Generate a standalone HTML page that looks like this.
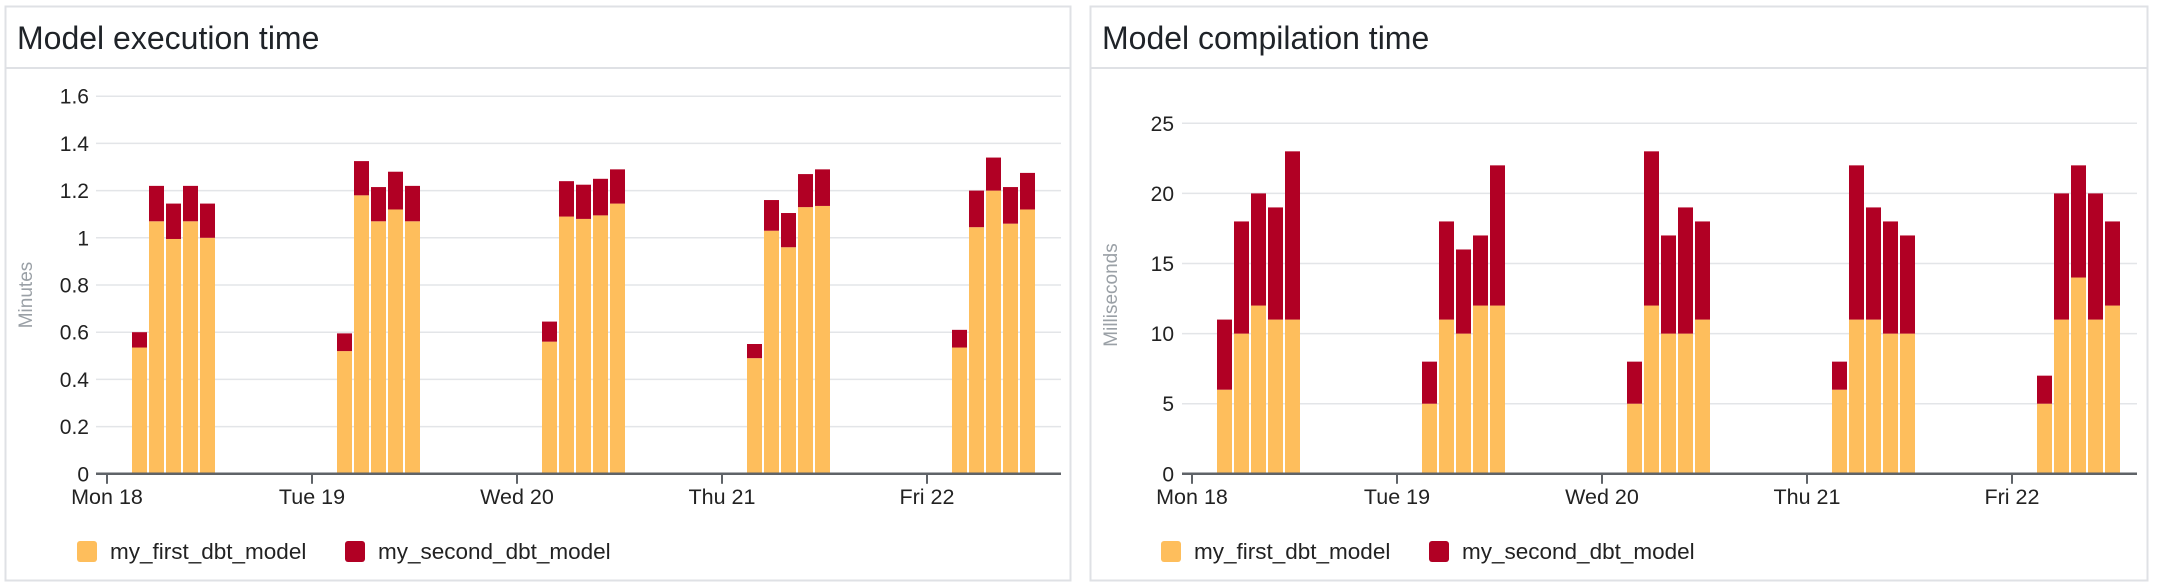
<!DOCTYPE html>
<html><head><meta charset="utf-8"><style>
html,body{margin:0;padding:0;background:#fff;width:2160px;height:586px;overflow:hidden}
svg{display:block;font-family:"Liberation Sans",sans-serif}
</style></head><body>
<svg id="s" width="2160" height="586" xmlns="http://www.w3.org/2000/svg">
<rect x="5.5" y="6.5" width="1065" height="574" fill="#fff" stroke="#dfe1e5" stroke-width="2"/>
<line x1="5" y1="68" x2="1071" y2="68" stroke="#dfe1e5" stroke-width="2"/>
<text x="17" y="49" font-size="32" fill="#1f2328">Model execution time</text>
<rect x="1090.5" y="6.5" width="1057" height="574" fill="#fff" stroke="#dfe1e5" stroke-width="2"/>
<line x1="1090" y1="68" x2="2148" y2="68" stroke="#dfe1e5" stroke-width="2"/>
<text x="1102" y="49" font-size="32" fill="#1f2328">Model compilation time</text>
<g id="g"></g>
</svg>
<script>
const NS="http://www.w3.org/2000/svg",g=document.getElementById('g');
function el(t,a,txt){const e=document.createElementNS(NS,t);for(const k in a)e.setAttribute(k,a[k]);if(txt!==undefined)e.textContent=txt;g.appendChild(e);return e;}
const OR="#FEBE5C",RD="#B10024";
function chart(o){
  const y0=473.8,ppu=o.ppu;
  o.ticks.forEach(v=>{const y=y0-v*ppu;
    if(v>0)el('line',{x1:o.left,x2:o.right,y1:y,y2:y,stroke:"#e3e5e8","stroke-width":1.5});
    el('text',{x:o.lab,y:y+7.5,"font-size":21,"text-anchor":"end",fill:"#222"},o.fmt(v));});
  el('text',{x:0,y:0,"font-size":19,"text-anchor":"middle",fill:"#9aa0a6",transform:`translate(${o.yl+7},295) rotate(-90)`},o.ylab);
  const days=["Mon 18","Tue 19","Wed 20","Thu 21","Fri 22"];
  days.forEach((d,i)=>{const tx=o.t0+i*205;
    el('line',{x1:tx,x2:tx,y1:y0,y2:y0+10,stroke:"#5f6368","stroke-width":2});
    el('text',{x:tx,y:504,"font-size":21.5,"text-anchor":"middle",fill:"#222"},d);
    o.data[i].forEach((b,j)=>{const x=tx+25+j*17;
      el('rect',{x:x,y:y0-b[0]*ppu,width:15,height:b[0]*ppu,fill:OR});
      el('rect',{x:x,y:y0-b[1]*ppu,width:15,height:(b[1]-b[0])*ppu,fill:RD});});
  });
  el('line',{x1:o.left,x2:o.right,y1:y0,y2:y0,stroke:"#5f6368","stroke-width":2.5});
  el('rect',{x:o.lg,y:541,width:20,height:21,rx:3,fill:OR});
  el('text',{x:o.lg+33,y:559,"font-size":22.5,fill:"#222"},"my_first_dbt_model");
  el('rect',{x:o.lg+268,y:541,width:20,height:21,rx:3,fill:RD});
  el('text',{x:o.lg+301,y:559,"font-size":22.5,fill:"#222"},"my_second_dbt_model");
}
chart({left:96,right:1061,lab:89,yl:25,ppu:236,t0:107,ylab:"Minutes",lg:77,
 ticks:[0,0.2,0.4,0.6,0.8,1,1.2,1.4,1.6],fmt:v=>v===0?"0":(v===1?"1":v.toFixed(1)),
 data:[
 [[0.535,0.60],[1.07,1.22],[0.995,1.145],[1.07,1.22],[1.0,1.145]],
 [[0.52,0.595],[1.18,1.325],[1.07,1.215],[1.12,1.28],[1.07,1.22]],
 [[0.56,0.645],[1.09,1.24],[1.08,1.225],[1.095,1.25],[1.145,1.29]],
 [[0.49,0.55],[1.03,1.16],[0.96,1.105],[1.13,1.27],[1.135,1.29]],
 [[0.535,0.61],[1.045,1.2],[1.2,1.34],[1.06,1.215],[1.12,1.275]]]});
chart({left:1182,right:2137,lab:1174,yl:1110,ppu:14.02,t0:1192,ylab:"Milliseconds",lg:1161,
 ticks:[0,5,10,15,20,25],fmt:v=>String(v),
 data:[
 [[6,11],[10,18],[12,20],[11,19],[11,23]],
 [[5,8],[11,18],[10,16],[12,17],[12,22]],
 [[5,8],[12,23],[10,17],[10,19],[11,18]],
 [[6,8],[11,22],[11,19],[10,18],[10,17]],
 [[5,7],[11,20],[14,22],[11,20],[12,18]]]});
</script>
</body></html>
